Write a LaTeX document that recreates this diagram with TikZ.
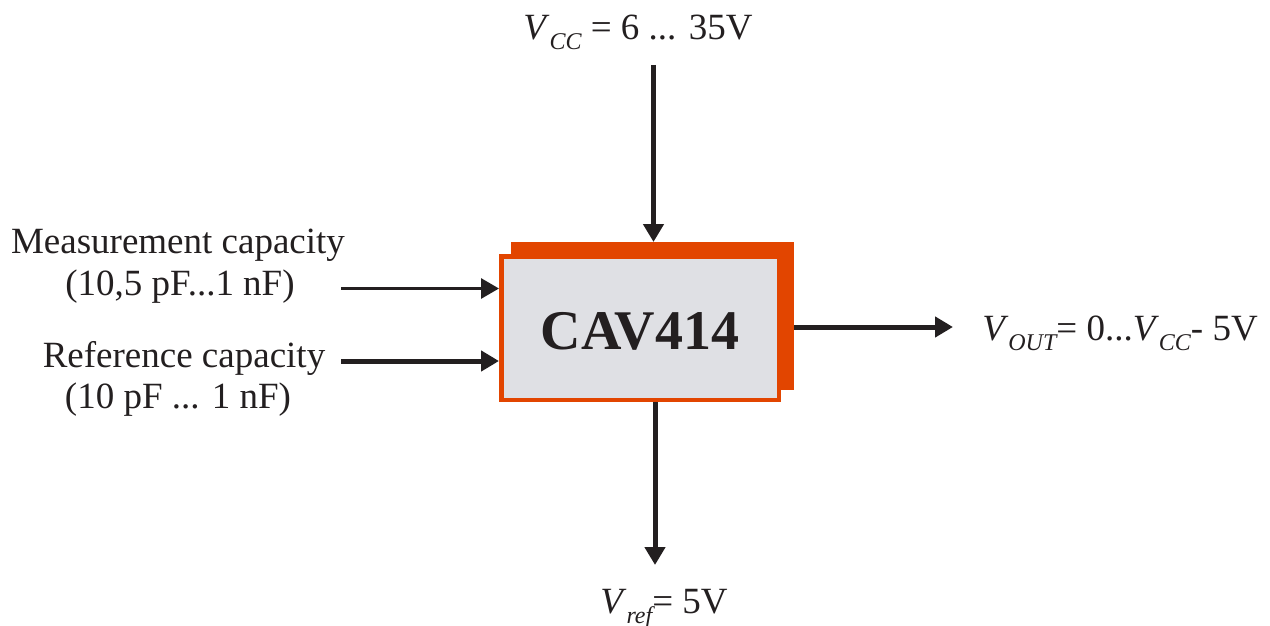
\documentclass[tikz,border=0pt]{standalone}
\usepackage{fontspec}
\setmainfont{Liberation Serif}
\usetikzlibrary{arrows.meta}
\definecolor{boxorange}{HTML}{E24500}
\definecolor{boxgray}{HTML}{DFE0E4}
\definecolor{ink}{HTML}{231F20}
\newcommand\sub[1]{\raisebox{-10pt}{\fontsize{24}{24}\selectfont\itshape #1}}
\begin{document}
\begin{tikzpicture}[x=1pt,y=-1pt,
  lbl/.style={font=\fontsize{37}{42}\selectfont, text=ink, inner sep=0pt, anchor=base},
  arr/.style={draw=ink, line width=5pt, -{Triangle[length=18pt,width=20pt]}},
  thinarr/.style={arr, line width=3pt},
  ]
\useasboundingbox (0,0) rectangle (1270,626);
% chip: orange back plate and grey front box
\node[fill=boxorange, minimum width=283pt, minimum height=148pt, inner sep=0pt, anchor=north west] (back) at (511,242) {};
\node[draw=boxorange, line width=4.5pt, fill=boxgray, minimum width=277.5pt, minimum height=143.5pt,
      inner sep=0pt, text height=43pt, text depth=0pt, text=ink,
      font=\fontsize{56}{60}\selectfont\bfseries] (chip) at (640,328) {CAV414};
% labels
\node[lbl] (vcc) at (638,40) {\textit{V}\sub{CC} = 6 ... 35V};
\node[lbl] (vout) at (1120,340) {\textit{V}\sub{OUT}= 0...\textit{V}\sub{CC}- 5V};
\node[lbl] (vref) at (664,613) {\textit{V}\sub{ref}= 5V};
\node[lbl] (meas) at (178,253) {Measurement capacity};
\node[lbl] (measr) at (180,295) {(10,5 pF...1 nF)};
\node[lbl] (refc) at (184,367) {Reference capacity};
\node[lbl] (refr) at (178,408) {(10 pF ... 1 nF)};
% connector ends
\coordinate (vcctail) at (653.5,65);
\coordinate (meastail) at (341,288.5);
\coordinate (reftail) at (341,361);
\coordinate (outhead) at (953,327);
\coordinate (refhead) at (655,565);
% connectors
\draw[arr] (vcctail) -- (vcctail |- back.north);
\draw[thinarr] (meastail) -- (meastail -| chip.west);
\draw[arr] (reftail) -- (reftail -| chip.west);
\draw[arr] (outhead -| back.east) -- (outhead);
\draw[arr] (refhead |- chip.south) -- (refhead);
\end{tikzpicture}
\end{document}
